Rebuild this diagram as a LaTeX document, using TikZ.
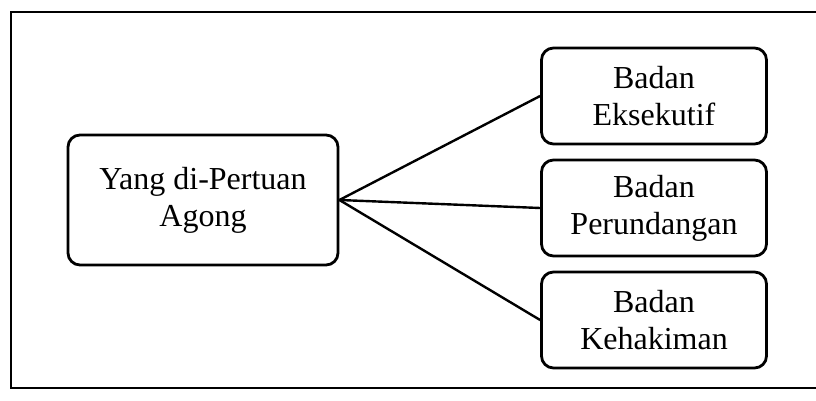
\documentclass[tikz,border=0pt]{standalone}
\usepackage{fontspec}
\setmainfont{Liberation Serif}
\usepackage{tikz}
\usetikzlibrary{ positioning, % For easy node-relative placements
               }
\tikzstyle{box} = [rectangle, rounded corners=6pt, draw=black, line width=1.4pt,
                   align=center, inner sep=0pt, font=\fontsize{16}{18.5}\selectfont]
\tikzstyle{head} = [box, minimum width=135pt, minimum height=65pt]
\tikzstyle{branch} = [box, minimum width=112.5pt, minimum height=48pt]
\tikzstyle{link} = [line width=1.2pt]

\begin{document}
\begin{tikzpicture}[x=0.5pt, y=-0.5pt]
  \useasboundingbox (0,0) rectangle (816,401);
  % frame, cut off on the right
  \draw[line width=1.2pt] (816,12) -- (11,12) -- (11,388) -- (816,388);

  \node (agong) [head] at (203,200) {Yang di-Pertuan\\Agong};

  \node (eksekutif) [branch] at (654,96) {Badan\\Eksekutif};
  \node (perundangan) [branch] at (654,208) {Badan\\Perundangan};
  \node (kehakiman) [branch] at (654,320) {Badan\\Kehakiman};

  \draw[link] (agong.east) -- (eksekutif.west);
  \draw[link] (agong.east) -- (perundangan.west);
  \draw[link] (agong.east) -- (kehakiman.west);

\end{tikzpicture}
\end{document}
